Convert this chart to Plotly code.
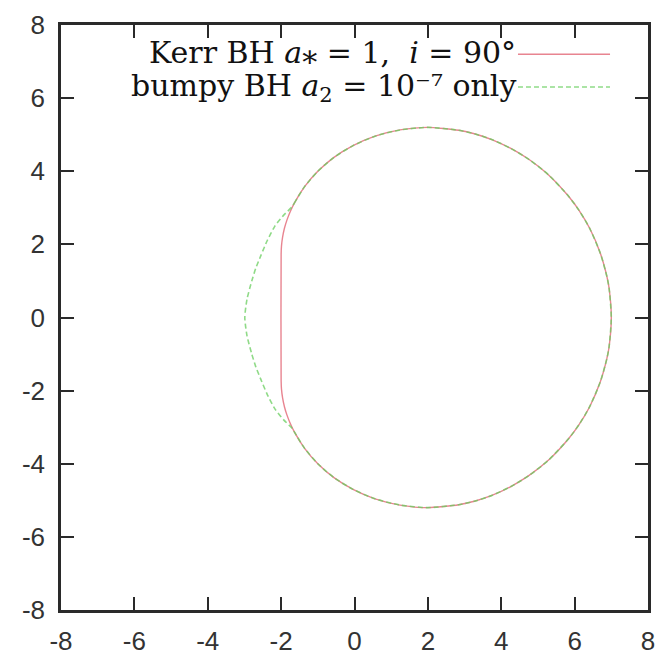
import plotly.graph_objects as go

# Kerr BH shadow boundary (a* = 1, i = 90 deg), closed loop, upper half then lower half
kerr_x = [-2.00, -1.99, -1.96, -1.91, -1.84, -1.75, -1.64, -1.36, -1.00, -0.56, -0.04,
          0.56, 1.24, 2.00, 2.84, 3.29, 3.76, 4.25, 4.76, 5.29, 5.84, 6.12, 6.41, 6.70,
          6.88, 6.94, 7.00,
          6.94, 6.88, 6.70, 6.41, 6.12, 5.84, 5.29, 4.76, 4.25, 3.76, 3.29, 2.84, 2.00,
          1.24, 0.56, -0.04, -0.56, -1.00, -1.36, -1.64, -1.75, -1.84, -1.91, -1.96,
          -1.99, -2.00, -2.00]
kerr_y = [1.73, 1.96, 2.20, 2.44, 2.67, 2.90, 3.13, 3.58, 4.00, 4.38, 4.70,
          4.96, 5.13, 5.20, 5.12, 5.02, 4.86, 4.63, 4.32, 3.90, 3.31, 2.93, 2.44, 1.76,
          1.12, 0.80, 0.00,
          -0.80, -1.12, -1.76, -2.44, -2.93, -3.31, -3.90, -4.32, -4.63, -4.86, -5.02,
          -5.12, -5.20, -5.13, -4.96, -4.70, -4.38, -4.00, -3.58, -3.13, -2.90, -2.67,
          -2.44, -2.20, -1.96, -1.73, 1.73]

# bumpy BH (a2 = 1e-7 only) shadow boundary, closed loop
bumpy_x = [-1.70, -1.64, -1.36, -1.00, -0.56, -0.04, 0.56, 1.24, 2.00, 2.84, 3.29,
           3.76, 4.25, 4.76, 5.29, 5.84, 6.12, 6.41, 6.70, 6.88, 6.94, 7.00,
           6.94, 6.88, 6.70, 6.41, 6.12, 5.84, 5.29, 4.76, 4.25, 3.76, 3.29, 2.84,
           2.00, 1.24, 0.56, -0.04, -0.56, -1.00, -1.36, -1.64, -1.70,
           -1.93, -2.17, -2.38, -2.55, -2.69, -2.80, -2.93, -2.99,
           -2.93, -2.80, -2.69, -2.55, -2.38, -2.17, -1.93, -1.70]
bumpy_y = [3.03, 3.13, 3.58, 4.00, 4.38, 4.70, 4.96, 5.13, 5.20, 5.12, 5.02,
           4.86, 4.63, 4.32, 3.90, 3.31, 2.93, 2.44, 1.76, 1.12, 0.80, 0.00,
           -0.80, -1.12, -1.76, -2.44, -2.93, -3.31, -3.90, -4.32, -4.63, -4.86,
           -5.02, -5.12, -5.20, -5.13, -4.96, -4.70, -4.38, -4.00, -3.58, -3.13, -3.03,
           -2.80, -2.50, -2.10, -1.70, -1.35, -1.00, -0.50, 0.00,
           0.50, 1.00, 1.35, 1.70, 2.10, 2.50, 2.80, 3.03]

tick_vals = [-8, -6, -4, -2, 0, 2, 4, 6, 8]
tick_text = ["-8", "-6", "-4", "-2", "0", "2", "4", "6", "8"]

legend_labels = [
    "Kerr BH <i>a</i>⁎ = 1,  <i>i</i> = 90°",
    "bumpy BH <i>a</i><sub>2</sub> = 10⁻⁷ only",
]
red = "rgba(228,110,125,0.85)"
green = "rgba(105,205,95,0.75)"

fig = go.Figure()
fig.add_trace(go.Scatter(x=kerr_x, y=kerr_y, mode="lines",
                         line=dict(color=red, width=1.4, shape="spline", smoothing=0.6),
                         name=legend_labels[0], showlegend=False))
fig.add_trace(go.Scatter(x=bumpy_x, y=bumpy_y, mode="lines",
                         line=dict(color=green, width=1.6, dash="5px,3px", shape="spline",
                                   smoothing=0.6),
                         name=legend_labels[1], showlegend=False))

axis_common = dict(
    range=[-8, 8], tickmode="array", tickvals=tick_vals, ticktext=tick_text,
    showgrid=False, zeroline=False, showline=True, linecolor="#2a2a2a", linewidth=2.5,
    mirror="ticks", ticks="inside", ticklen=13, tickwidth=2, tickcolor="#2a2a2a",
    tickfont=dict(family="Liberation Sans, Arial, sans-serif", size=26, color="#333333"),
    automargin=False,
)

fig.update_layout(
    width=659, height=659,
    margin=dict(l=61, r=11, t=25, b=49),
    paper_bgcolor="white", plot_bgcolor="white",
    xaxis=dict(**axis_common, ticklabelstandoff=6),
    yaxis=dict(**axis_common, ticklabelstandoff=8),
)

# legend: right-aligned labels followed by line keys
key_x0, key_x1 = 0.7785, 0.9353
rows = [(0.953, 0.953, red, "solid"), (0.893, 0.897, green, "5px,3px")]
for (ytext, ykey, col, dash), label in zip(rows, legend_labels):
    fig.add_annotation(xref="paper", yref="paper", x=0.778, y=ytext, text=label,
                       showarrow=False, xanchor="right", yanchor="middle",
                       font=dict(family="DejaVu Serif, Liberation Serif, serif",
                                 size=30, color="#111111"))
    fig.add_shape(type="line", xref="paper", yref="paper", x0=key_x0, x1=key_x1,
                  y0=ykey - 0.003, y1=ykey - 0.003,
                  line=dict(color=col, width=1.6, dash=dash))

fig.write_html("out.html")
